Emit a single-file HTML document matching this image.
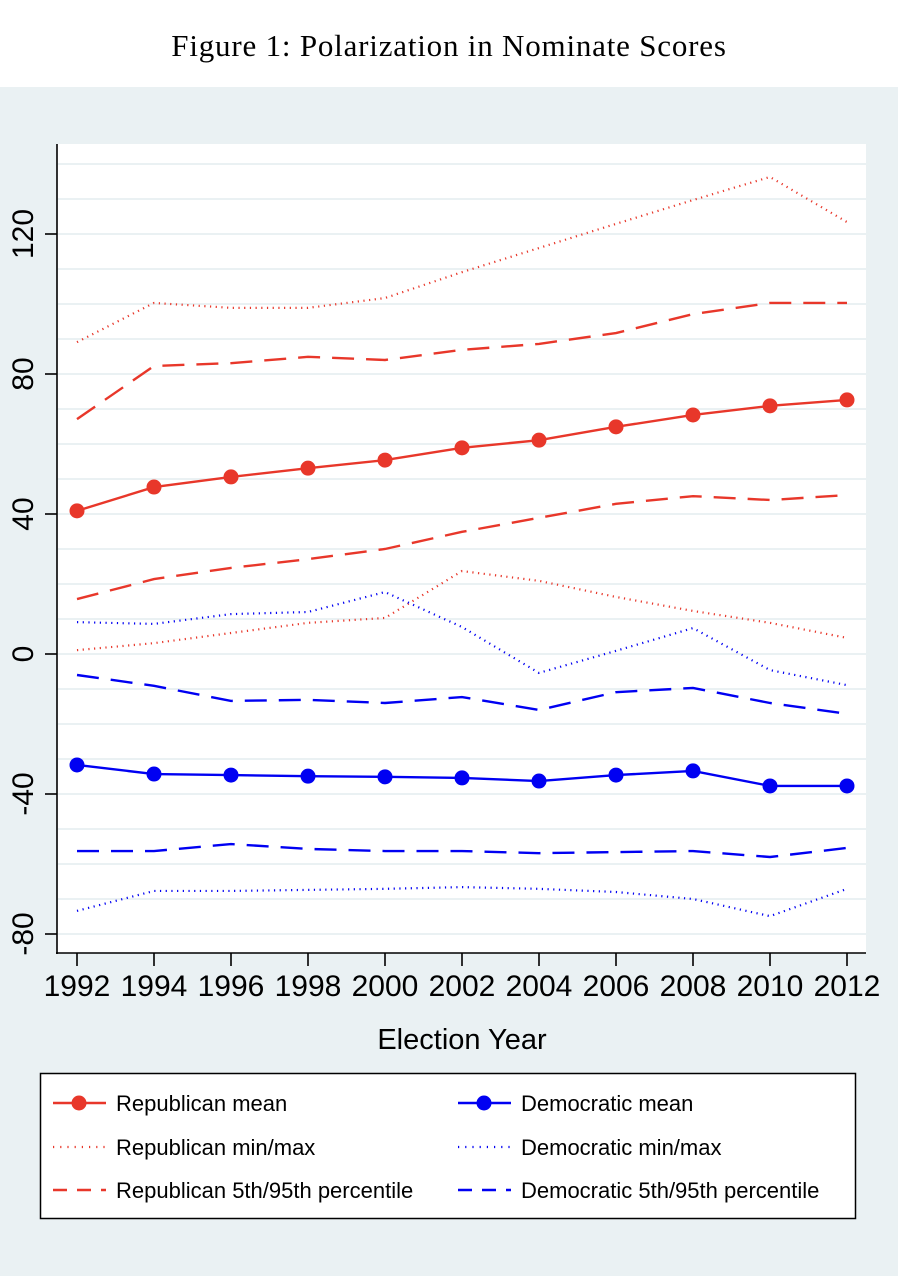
<!DOCTYPE html>
<html><head><meta charset="utf-8"><style>
body{margin:0;width:898px;height:1276px;background:#fff;overflow:hidden}
svg{display:block}
</style></head><body>
<svg id="chart" width="898" height="1276" xmlns="http://www.w3.org/2000/svg">
<rect x="0" y="87" width="898" height="1189" fill="#eaf1f3"/>
<text x="449" y="56" text-anchor="middle" font-family="Liberation Serif, serif" font-size="31" letter-spacing="0.8" fill="#000">Figure 1: Polarization in Nominate Scores</text>
<rect x="57" y="144" width="809" height="809" fill="#fff"/>
<g id="grid"></g><g id="series"></g><g id="axes"></g>
<text x="462" y="1049" text-anchor="middle" font-family="Liberation Sans, sans-serif" font-size="29">Election Year</text>
<g>
<rect x="40.5" y="1073.5" width="815" height="145" fill="#fff" stroke="#000" stroke-width="1.5"/>
<g id="legend"></g>
</g>
</svg>
<script>
const years=[1992,1994,1996,1998,2000,2002,2004,2006,2008,2010,2012];
const yTicks=[-80,-40,0,40,80,120];
const repMean=[40.9,47.7,50.6,53.1,55.4,58.9,61.1,64.9,68.3,70.9,72.6];
const repMax=[89.1,100.3,98.9,98.9,101.7,109.1,116,122.9,129.7,136.3,123.4];
const repP95=[67.1,82.3,83.1,84.9,84,86.9,88.6,91.7,97.1,100.3,100.3];
const repP5=[15.7,21.4,24.6,27.1,30,34.9,38.9,42.9,45.1,44,45.4];
const repMin=[1.1,3.1,6,8.9,10.3,23.7,20.9,16.3,12.3,8.9,4.6];
const demMax=[9.1,8.6,11.4,12,17.7,7.7,-5.4,0.9,7.4,-4.6,-8.9];
const demP95=[-6,-9.1,-13.4,-13.1,-14,-12.3,-16,-10.9,-9.7,-14,-17.1];
const demMean=[-31.7,-34.3,-34.6,-34.9,-35.1,-35.4,-36.3,-34.6,-33.4,-37.7,-37.7];
const demP5=[-56.3,-56.3,-54.3,-55.7,-56.3,-56.3,-56.9,-56.6,-56.3,-58,-55.4];
const demMin=[-73.4,-67.7,-67.7,-67.4,-67.1,-66.6,-67.1,-68,-70,-74.9,-67.1];

const NS='http://www.w3.org/2000/svg';
const RED='#e8372a',BLUE='#0000f2';
function xs(yr){return 77+(yr-1992)*38.5;}
function ys(v){return 654-v*3.5;}
function mk(tag,attrs,parent){const e=document.createElementNS(NS,tag);for(const k in attrs)e.setAttribute(k,attrs[k]);parent.appendChild(e);return e;}
const grid=document.getElementById('grid'),ser=document.getElementById('series'),ax=document.getElementById('axes'),leg=document.getElementById('legend');
for(let v=-80;v<=140;v+=10){
  const l=mk('line',{x1:58,x2:866,y1:ys(v),y2:ys(v),stroke:'#eaf1f3','stroke-width':2},grid);
  
  
}
const styles={solid:{},dot:{'stroke-dasharray':'1.2 4.5'},dash:{'stroke-dasharray':'22 12'}};
const seriesList=[
 [repMax,RED,'dot','rep-max-line'],[repMin,RED,'dot','rep-min-line'],
 [repP95,RED,'dash','rep-p95-line'],[repP5,RED,'dash','rep-p5-line'],
 [repMean,RED,'solid','rep-mean-line'],
 [demMax,BLUE,'dot','dem-max-line'],[demMin,BLUE,'dot','dem-min-line'],
 [demP95,BLUE,'dash','dem-p95-line'],[demP5,BLUE,'dash','dem-p5-line'],
 [demMean,BLUE,'solid','dem-mean-line']];
seriesList.forEach(([d,c,s,n])=>{
  const pts=d.map((v,i)=>xs(years[i])+','+ys(v)).join(' ');
  const a=Object.assign({points:pts,fill:'none',stroke:c,'stroke-width':s==='dot'?2.2:2.4},styles[s]);
  const p=mk('polyline',a,ser);
  
  
  if(s==='solid'){d.forEach((v,i)=>{
    const m=mk('circle',{cx:xs(years[i]),cy:ys(v),r:7.5,fill:c},ser);
    
    
  });}
});
mk('line',{x1:57,x2:57,y1:144,y2:954,stroke:'#000','stroke-width':1.6},ax);
mk('line',{x1:56,x2:866,y1:953,y2:953,stroke:'#000','stroke-width':1.6},ax);
yTicks.forEach(v=>{
  mk('line',{x1:45,x2:57,y1:ys(v),y2:ys(v),stroke:'#000','stroke-width':1.6},ax);
  const t=mk('text',{x:0,y:0,transform:`translate(33,${ys(v)}) rotate(-90)`,'text-anchor':'middle','font-family':'Liberation Sans, sans-serif','font-size':30},ax);
  t.textContent=v;
  
  
});
years.forEach(yr=>{
  mk('line',{x1:xs(yr),x2:xs(yr),y1:953,y2:966,stroke:'#000','stroke-width':1.6},ax);
  const t=mk('text',{x:xs(yr),y:996,'text-anchor':'middle','font-family':'Liberation Sans, sans-serif','font-size':30},ax);
  t.textContent=yr;
  
  
});
const legItems=[
 [53,1103,RED,'solid','Republican mean'],[53,1147,RED,'dot','Republican min/max'],[53,1190,RED,'dash','Republican 5th/95th percentile'],
 [458,1103,BLUE,'solid','Democratic mean'],[458,1147,BLUE,'dot','Democratic min/max'],[458,1190,BLUE,'dash','Democratic 5th/95th percentile']];
legItems.forEach(([x,y,c,s,label])=>{
  const g=mk('g',{},leg);
  
  
  mk('line',Object.assign({x1:x,x2:x+53,y1:y,y2:y,stroke:c,'stroke-width':s==='dot'?2.2:2.4},s==='dash'?{'stroke-dasharray':'14 10'}:s==='dot'?{'stroke-dasharray':'1.2 6'}:{}),g);
  if(s==='solid')mk('circle',{cx:x+26,cy:y,r:7.5,fill:c},g);
  const t=mk('text',{x:x+63,y:y+8,'font-family':'Liberation Sans, sans-serif','font-size':22},g);
  t.textContent=label;
});
</script>
</body></html>
